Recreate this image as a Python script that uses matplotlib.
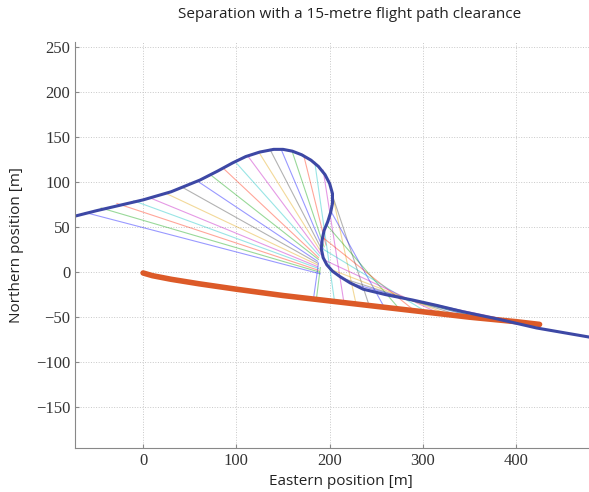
import matplotlib.pyplot as plt

# blue flight path
blue_x = [-73, -50, -25, 0, 30, 61, 80, 96, 110, 125, 140, 150, 160, 170, 180, 188, 195, 200, 203,
          203, 201, 198, 194, 192, 191, 193, 197, 203, 211, 222, 236, 260, 289, 315, 343, 380, 422, 450, 478]
blue_y = [62, 68, 74, 80, 89, 102, 112, 121, 128, 133, 136, 136, 134, 130, 124, 117, 108, 98, 87,
          76, 66, 56, 46, 36, 26, 16, 8, 1, -5, -12, -19, -25, -31, -37, -44, -52, -62, -67, -72]

# red flight path
red_x = [0, 10, 30, 60, 100, 150, 200, 250, 300, 350, 400, 425]
red_y = [-1, -4, -8, -13, -19, -26, -32, -38, -44, -50, -55, -58]

# separation lines (start on blue path, end point)
sep_x0 = [-62, -45, -28, -10, 8, 25, 42, 58, 72, 86, 99, 112, 124, 136, 148, 160, 172,
          184, 193, 200, 203, 201, 197, 193, 192, 195, 201, 211, 225, 245, 270, 300, 330, 360, 390,
          188, 190]
sep_y0 = [66, 71, 76, 79, 82, 87, 94, 101, 108, 115, 122, 129, 133, 136, 136, 133, 130,
          122, 113, 100, 85, 68, 52, 38, 26, 13, 3, -6, -13, -21, -27, -33, -40, -47, -54,
          10, 5]
sep_x1 = [190, 189, 188, 188, 187, 187, 187, 187, 188, 188, 189, 190, 191, 192, 193, 194, 196,
          205, 215, 228, 242, 258, 274, 290, 305, 318, 330, 342, 355, 368, 382, 395, 405, 412, 420,
          183, 186]
sep_y1 = [-2, 0, 2, 4, 6, 8, 10, 12, 14, 16, 18, 20, 22, 24, 26, 28, 30,
          -31, -32, -34, -36, -38, -40, -42, -45, -46, -48, -49, -50, -52, -53, -55, -56, -57, -58,
          -27, -28]

line_colors = ['#0000ff', '#00a000', '#ff2000', '#00bfbf', '#bf00bf', '#e0a000', '#404040']

fig = plt.figure(figsize=(5.89, 4.92), dpi=100)
ax = fig.add_axes([75 / 589, 44 / 492, 514 / 589, 406 / 492])

for i in range(len(sep_x0)):
    ax.plot([sep_x0[i], sep_x1[i]], [sep_y0[i], sep_y1[i]],
            color=line_colors[i % len(line_colors)], lw=0.8, alpha=0.4)

ax.plot(red_x, red_y, color='#dc5a28', lw=4, solid_capstyle='round')
ax.plot(blue_x, blue_y, color='#3d48a5', lw=2.2)

ax.set_xlim(-73, 478)
ax.set_ylim(-195, 255)
ax.set_xticks([0, 100, 200, 300, 400])
ax.set_yticks([-150, -100, -50, 0, 50, 100, 150, 200, 250])
ax.grid(True, ls=':', lw=0.7, color='#c8c8c8')
ax.spines['top'].set_visible(False)
ax.spines['right'].set_visible(False)
ax.spines['left'].set_color('#888888')
ax.spines['bottom'].set_color('#888888')
ax.tick_params(direction='in', length=3, color='#888888', labelcolor='#333333')
for lab in ax.get_xticklabels() + ax.get_yticklabels():
    lab.set_family('Liberation Serif')
    lab.set_fontsize(12)

ax.set_xlabel('Eastern position [m]', fontsize=11, family='Open Sans', color='#222222')
ax.xaxis.set_label_coords(0.517, -0.065)
ax.set_ylabel('Northern position [m]', fontsize=11, family='Open Sans', color='#222222')
ax.yaxis.set_label_coords(-0.1, 0.5)
fig.text(350 / 589, 1 - 14 / 492, 'Separation with a 15-metre flight path clearance',
         ha='center', va='center', fontsize=11, family='Open Sans', color='#222222')

plt.savefig('out.png', dpi=100)
